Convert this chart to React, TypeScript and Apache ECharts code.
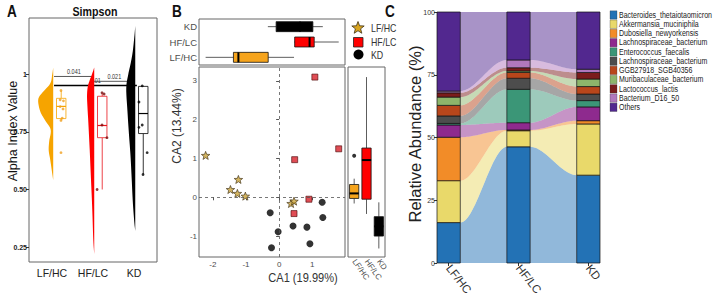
import React, { useEffect, useRef } from "react";
import * as echarts from "echarts";

const SANS = "'Liberation Sans', Arial, sans-serif";
const NARROW = SANS;

// ---------------- Panel A : Simpson ----------------
const groups = ["LF/HC", "HF/LC", "KD"];
const alphaTicks = [0.25, 0.5, 0.75, 1];
const alphaTickLabels = ["0.25", "0.50", "0.75", "1"];
// half-violin outlines: [alpha value, density width]
const violinLF = [[0.54, 0], [0.57, 1], [0.63, 3], [0.67, 4.5], [0.71, 4], [0.76, 2.5], [0.8, 8], [0.84, 13], [0.89, 15], [0.92, 11], [0.96, 3], [1.0, 1], [1.03, 0]];
const violinHF = [[0.22, 0], [0.26, 0.7], [0.31, 1.2], [0.38, 1.7], [0.45, 2.3], [0.52, 3], [0.6, 3.8], [0.67, 4.5], [0.74, 5.3], [0.8, 6], [0.86, 6.8], [0.91, 7.2], [0.95, 6.3], [0.98, 4], [1.01, 1.5], [1.03, 0]];
const violinKD = [[0.32, 0], [0.36, 1], [0.45, 2.5], [0.55, 3.6], [0.65, 4.8], [0.74, 6.3], [0.84, 7.8], [0.94, 9], [1.0, 7], [1.05, 4.5], [1.1, 2.5], [1.16, 1], [1.21, 0]];
// [lower whisker, q1, median, q3, upper whisker]
const boxLF = [0.8, 0.808, 0.861, 0.896, 0.93];
const boxHF = [0.5, 0.725, 0.778, 0.905, 0.915];
const boxKD = [0.565, 0.743, 0.83, 0.948, 0.95];
const pointsLF = [[1.22, 0.93], [1.2, 0.89], [1.28, 0.885], [1.2, 0.86], [1.27, 0.85], [1.22, 0.8], [1.25, 0.81], [1.22, 0.66]];
const pointsHF = [[2.22, 0.92], [2.27, 0.915], [2.22, 0.78], [2.34, 0.725], [2.1, 0.5]];
const pointsKD = [[3.2, 0.95], [3.12, 0.88], [3.12, 0.77], [3.2, 0.78], [3.32, 0.66], [3.22, 0.565]];
// [x start, x end, y]
const brackets = [[1.05, 2.02, 0.991], [2.02, 3.02, 0.97], [1.05, 3.07, 0.952]];
const bracketLabels = ["0.041", "0.021", "0.01"];

// ---------------- Panel B : CA ----------------
const ca1Ticks = [-2, -1, 0, 1];
const ca2Ticks = [-1, 0, 1, 2, 3];
const starsLF = [[-2.22, 1.08], [-1.23, 0.46], [-1.47, 0.2], [-1.26, 0.1], [-1.02, 0.03], [0.36, -0.16], [0.45, -0.1]];
const squaresHF = [[1.08, 3.1], [1.8, 1.25], [0.47, 0.97], [0.9, -0.05], [0.45, -0.42]];
const circlesKD = [[-0.27, -0.4], [-0.03, -0.89], [-0.23, -1.3], [0.42, -0.74], [0.84, -0.77], [0.93, -1.2], [1.3, -0.13], [1.32, -0.52]];
const ca1Box = [[-2.22, -1.38, -1.23, -0.33, 0.45], [0.45, 0.47, 0.92, 1.06, 1.8], [-0.34, -0.09, 0.63, 1.02, 1.32]];
const ca2Box = [[-0.16, -0.03, 0.1, 0.33, 0.48], [-0.43, -0.05, 0.96, 1.27, 3.1], [-1.32, -1.0, -0.75, -0.5, -0.13]];
const ca2Outliers = [[0, 1.07]];

// ---------------- Panel C : Relative abundance ----------------
const taxa = [
  "Bacteroides_thetaiotaomicron", "Akkermansia_muciniphila", "Dubosiella_newyorkensis",
  "Lachnospiraceae_bacterium", "Enterococcus_faecalis", "Lachnospiraceae_bacterium",
  "GGB27918_SGB40356", "Muribaculaceae_bacterium", "Lactococcus_lactis", "Bacterium_D16_50", "Others",
];
const taxaColors = ["#2372B5", "#E9D96A", "#F28C28", "#8E2A8E", "#3B9677", "#4D4D4D", "#B8461B", "#8DB56B", "#7B1C1C", "#B178BD", "#52288F"];
const abundLF = [16.1, 16.7, 17.3, 4.9, 0.6, 3.0, 4.2, 3.3, 1.7, 0.7, 31.5];
const abundHF = [46.3, 6.4, 0.3, 2.9, 13.3, 4.4, 2.3, 0.6, 1.3, 3.1, 19.1];
const abundKD = [35, 20.4, 1.3, 5.5, 2.5, 2.6, 3.0, 3.0, 2.6, 1.3, 22.8];
const abundTicks = [0, 25, 50, 75, 100];

// ---------------- helpers ----------------
const groupColors = ["#F6A400", "#FF0000", "#000000"];
const boxStroke = ["#F6A400", "#E8141C", "#000000"];
const pointColors = ["#F0A020", "#7A0A0A", "#000000"];
const violins = [violinLF, violinHF, violinKD];
const boxesA = [boxLF, boxHF, boxKD];
const VIOLIN_OFFSET = 0.03;
const VIOLIN_SCALE = 1 / 41;
const BAR_HALF = 1 / 6;

function catmull(pts: number[][], n = 6) {
  const out: number[][] = [];
  for (let i = 0; i < pts.length - 1; i++) {
    const p0 = pts[Math.max(i - 1, 0)], p1 = pts[i], p2 = pts[i + 1], p3 = pts[Math.min(i + 2, pts.length - 1)];
    for (let t = 0; t < n; t++) {
      const s = t / n, s2 = s * s, s3 = s2 * s;
      out.push([0, 1].map((k) => 0.5 * (2 * p1[k] + (-p0[k] + p2[k]) * s + (2 * p0[k] - 5 * p1[k] + 4 * p2[k] - p3[k]) * s2 + (-p0[k] + 3 * p1[k] - 3 * p2[k] + p3[k]) * s3)));
    }
  }
  out.push(pts[pts.length - 1]);
  return out;
}
const smoothstep = (t: number) => t * t * (3 - 2 * t);
const cumulative = (arr: number[]) => {
  const out = [0];
  arr.forEach((v) => out.push(out[out.length - 1] + v));
  return out;
};
const abund = [abundLF, abundHF, abundKD];
const cums = abund.map(cumulative);

const starPoints = (cx: number, cy: number, r: number) => {
  const pts: number[][] = [];
  for (let i = 0; i < 10; i++) {
    const rr = i % 2 === 0 ? r : r * 0.42;
    const a = -Math.PI / 2 + (i * Math.PI) / 5;
    pts.push([cx + rr * Math.cos(a), cy + rr * Math.sin(a)]);
  }
  return pts;
};
const STAR = "path://M" + starPoints(50, 50, 50).map((p) => p[0].toFixed(1) + "," + p[1].toFixed(1)).join("L") + "Z";

const txt = (text: string, x: number, y: number, o: any = {}) => ({
  type: "text",
  x,
  y,
  rotation: o.rotation || 0,
  scaleX: o.scaleX || 1,
  silent: true,
  style: {
    text,
    fontSize: o.fontSize || 10,
    fontFamily: o.fontFamily || NARROW,
    fontWeight: o.fontWeight || "normal",
    fill: o.fill || "#222",
    textAlign: o.align || "left",
    align: o.align || "left",
    textVerticalAlign: "middle",
    verticalAlign: "middle",
  },
});

function boxRender(horizontal: boolean, data: number[][], fills: string[]) {
  return (params: any, api: any) => {
    const g = params.dataIndex;
    const [lo, q1, med, q3, hi] = data[g];
    const band = horizontal ? api.size([0, 1])[1] : api.size([1, 0])[0];
    const h = band * (horizontal ? 0.65 : 0.75);
    const P = (v: number) => (horizontal ? api.coord([v, g]) : api.coord([g, v]));
    const pLo = P(lo), pQ1 = P(q1), pMed = P(med), pQ3 = P(q3), pHi = P(hi);
    const ws = { stroke: "#333", lineWidth: 0.8 };
    if (horizontal) {
      const cy = pLo[1];
      return {
        type: "group",
        children: [
          { type: "line", shape: { x1: pLo[0], y1: cy, x2: pQ1[0], y2: cy }, style: ws },
          { type: "line", shape: { x1: pQ3[0], y1: cy, x2: pHi[0], y2: cy }, style: ws },
          { type: "rect", shape: { x: pQ1[0], y: cy - h / 2, width: pQ3[0] - pQ1[0], height: h }, style: { fill: fills[g], stroke: "#111", lineWidth: 0.8 } },
          { type: "line", shape: { x1: pMed[0], y1: cy - h / 2, x2: pMed[0], y2: cy + h / 2 }, style: { stroke: "#000", lineWidth: 2 } },
        ],
      };
    }
    const cx = pLo[0];
    return {
      type: "group",
      children: [
        { type: "line", shape: { x1: cx, y1: pLo[1], x2: cx, y2: pQ1[1] }, style: ws },
        { type: "line", shape: { x1: cx, y1: pQ3[1], x2: cx, y2: pHi[1] }, style: ws },
        { type: "rect", shape: { x: cx - h / 2, y: pQ3[1], width: h, height: pQ1[1] - pQ3[1] }, style: { fill: fills[g], stroke: "#111", lineWidth: 0.8 } },
        { type: "line", shape: { x1: cx - h / 2, y1: pMed[1], x2: cx + h / 2, y2: pMed[1] }, style: { stroke: "#000", lineWidth: 2 } },
      ],
    };
  };
}

const gridBorder = { show: true, borderColor: "#666", borderWidth: 1, backgroundColor: "transparent" };
const tickLbl = (size: number, color = "#4d4d4d") => ({ fontSize: size, color, fontFamily: NARROW });

function buildOption() {
  const barItems: number[][] = [];
  abund.forEach((arr, b) => arr.forEach((_, l) => barItems.push([b + 1, cums[b][l], cums[b][l + 1], l])));
  const flowItems: number[][] = [];
  for (let g = 0; g < abund.length - 1; g++) for (let l = 0; l < taxa.length; l++) flowItems.push([g + 1, g + 2, l]);

  const graphic: any[] = [
    txt("A", 7, 12, { fontSize: 16, fontWeight: "bold", fontFamily: SANS, fill: "#111", scaleX: 0.85 }),
    txt("B", 172, 12, { fontSize: 16, fontWeight: "bold", fontFamily: SANS, fill: "#111", scaleX: 0.85 }),
    txt("C", 385, 12, { fontSize: 16, fontWeight: "bold", fontFamily: SANS, fill: "#111", scaleX: 0.85 }),
    txt("Simpson", 95, 12, { fontSize: 13, fontWeight: "bold", align: "center", fill: "#111", scaleX: 0.82 }),
    txt("Alpha Index Value", 13, 131, { fontSize: 12.5, fontFamily: SANS, align: "center", rotation: Math.PI / 2, fill: "#111" }),
    txt("CA2 (13.44%)", 177, 126, { fontSize: 12, fontFamily: SANS, align: "center", rotation: Math.PI / 2, fill: "#333" }),
    txt("CA1 (19.99%)", 303, 278, { fontSize: 13.5, align: "center", fill: "#333", scaleX: 0.82 }),
    txt("Relative Abundance (%)", 415, 134, { fontSize: 16.5, fontFamily: SANS, align: "center", rotation: Math.PI / 2, fill: "#222" }),
    // B legend
    { type: "polygon", silent: true, shape: { points: starPoints(358, 28, 6.5) }, style: { fill: "#D9A520", stroke: "#3d3015", lineWidth: 0.8 } },
    { type: "rect", silent: true, shape: { x: 353.5, y: 37.5, width: 9.5, height: 9.5 }, style: { fill: "#FF0000", stroke: "#222", lineWidth: 0.8 } },
    { type: "circle", silent: true, shape: { cx: 358.5, cy: 54.5, r: 5 }, style: { fill: "#000" } },
    txt(groups[0], 371, 28, { fontSize: 11, fill: "#333", scaleX: 0.8 }),
    txt(groups[1], 371, 42, { fontSize: 11, fill: "#333", scaleX: 0.8 }),
    txt(groups[2], 371, 55, { fontSize: 11, fill: "#333", scaleX: 0.8 }),
  ];
  taxa.forEach((name, i) => {
    const cy = 15 + i * 9.23;
    graphic.push({ type: "rect", silent: true, shape: { x: 610, y: cy - 4.2, width: 7, height: 8.4 }, style: { fill: taxaColors[i], stroke: "#333", lineWidth: 0.3 } });
    graphic.push(txt(name, 619, cy, { fontSize: 8.8, fill: "#222", scaleX: 0.8 }));
  });

  return {
    animation: false,
    backgroundColor: "#fff",
    textStyle: { fontFamily: NARROW },
    grid: [
      { left: 29, top: 18, width: 128, height: 244, ...gridBorder },
      { left: 199, top: 19, width: 146, height: 46, ...gridBorder },
      { left: 199, top: 67, width: 146, height: 190, ...gridBorder },
      { left: 348, top: 67, width: 37, height: 190, ...gridBorder },
      { left: 437, top: 12, width: 163, height: 251, show: false },
    ],
    xAxis: [
      {
        gridIndex: 0, type: "value", min: 0.44, max: 3.56,
        axisLine: { show: false }, splitLine: { show: false }, axisTick: { show: false },
        axisLabel: { customValues: [1, 2, 3], formatter: (v: number) => groups[Math.round(v) - 1] || "", ...tickLbl(10.5, "#222"), margin: 5 },
      },
      { gridIndex: 1, type: "value", min: -2.42, max: 1.99, axisLine: { show: false }, splitLine: { show: false }, axisTick: { show: false }, axisLabel: { show: false } },
      {
        gridIndex: 2, type: "value", min: -2.42, max: 1.99,
        axisLine: { show: false }, splitLine: { show: false },
        axisTick: { customValues: ca1Ticks, length: 3, lineStyle: { color: "#555" } },
        axisLabel: { customValues: ca1Ticks, ...tickLbl(8), margin: 3 },
      },
      {
        gridIndex: 3, type: "category", data: groups,
        axisLine: { show: false }, splitLine: { show: false },
        axisTick: { alignWithLabel: true, length: 3, lineStyle: { color: "#555" } },
        axisLabel: { rotate: -55, ...tickLbl(8), margin: 3, interval: 0 },
      },
      {
        gridIndex: 4, type: "value", min: 1 - BAR_HALF, max: 3 + BAR_HALF,
        axisLine: { show: false }, splitLine: { show: false },
        axisTick: { customValues: [1, 2, 3], length: 3, lineStyle: { color: "#333" } },
        axisLabel: { customValues: [1, 2, 3], formatter: (v: number) => groups[Math.round(v) - 1] || "", rotate: -52, ...tickLbl(11.5, "#333"), margin: 3 },
      },
    ],
    yAxis: [
      {
        gridIndex: 0, type: "value", min: 0.185, max: 1.245,
        axisLine: { show: false }, splitLine: { show: false },
        axisTick: { customValues: alphaTicks, length: 3, lineStyle: { color: "#333" } },
        axisLabel: {
          customValues: alphaTicks,
          formatter: (v: number) => alphaTickLabels[alphaTicks.findIndex((t) => Math.abs(t - v) < 1e-6)] || "",
          ...tickLbl(7, "#222"), fontWeight: "bold", margin: 2,
        },
      },
      {
        gridIndex: 1, type: "category", data: groups,
        axisLine: { show: false }, splitLine: { show: false },
        axisTick: { alignWithLabel: true, length: 3, lineStyle: { color: "#555" } },
        axisLabel: { ...tickLbl(9.5), margin: 2 },
      },
      {
        gridIndex: 2, type: "value", min: -1.54, max: 3.36,
        axisLine: { show: false }, splitLine: { show: false },
        axisTick: { customValues: ca2Ticks, length: 3, lineStyle: { color: "#555" } },
        axisLabel: { customValues: ca2Ticks, ...tickLbl(8), margin: 2 },
      },
      { gridIndex: 3, type: "value", min: -1.54, max: 3.36, axisLine: { show: false }, splitLine: { show: false }, axisTick: { show: false }, axisLabel: { show: false } },
      {
        gridIndex: 4, type: "value", min: 0, max: 100, interval: 25,
        axisLine: { show: false }, splitLine: { show: false },
        axisTick: { length: 3, lineStyle: { color: "#333" } },
        axisLabel: { customValues: abundTicks, ...tickLbl(7, "#333"), margin: 2 },
      },
    ],
    series: [
      // ---- A: brackets
      {
        type: "custom", xAxisIndex: 0, yAxisIndex: 0, z: 2, silent: true,
        data: brackets.map((b) => [(b[0] + b[1]) / 2, b[2]]),
        renderItem: (params: any, api: any) => {
          const [x1, x2, y] = brackets[params.dataIndex];
          const p1 = api.coord([x1, y]);
          const p2 = api.coord([x2, y]);
          const last = params.dataIndex === brackets.length - 1;
          return {
            type: "group",
            children: [
              { type: "line", shape: { x1: p1[0], y1: p1[1], x2: p2[0], y2: p2[1] }, style: { stroke: last ? "#000" : "#444", lineWidth: last ? 1.6 : 0.9 } },
              {
                type: "text", x: (p1[0] + p2[0]) / 2, y: p1[1] - 1, scaleX: 0.85,
                style: { text: bracketLabels[params.dataIndex], fontSize: 6.5, fontFamily: NARROW, fill: "#333", textAlign: "center", align: "center", textVerticalAlign: "bottom", verticalAlign: "bottom" },
              },
            ],
          };
        },
      },
      // ---- A: violins
      {
        type: "custom", xAxisIndex: 0, yAxisIndex: 0, z: 3, silent: true,
        data: groups.map((_, i) => [i + 1, 0.6]),
        renderItem: (params: any, api: any) => {
          const g = params.dataIndex;
          const base = g + 1 + VIOLIN_OFFSET;
          const pts = violins[g].map(([v, w]) => api.coord([base - w * VIOLIN_SCALE, v]));
          return { type: "polygon", shape: { points: catmull(pts, 6) }, style: { fill: groupColors[g] } };
        },
      },
      // ---- A: boxes
      {
        type: "custom", xAxisIndex: 0, yAxisIndex: 0, z: 4, silent: true,
        data: groups.map((_, i) => [i + 1.22, boxesA[i][2]]),
        renderItem: (params: any, api: any) => {
          const g = params.dataIndex;
          const [lo, q1, med, q3, hi] = boxesA[g];
          const cx = g + 1 + 0.225, hw = 0.115;
          const c = (y: number) => api.coord([cx, y]);
          const tl = api.coord([cx - hw, q3]), br = api.coord([cx + hw, q1]);
          const ml = api.coord([cx - hw, med]), mr = api.coord([cx + hw, med]);
          const st = { stroke: boxStroke[g], lineWidth: 0.8 };
          return {
            type: "group",
            children: [
              { type: "line", shape: { x1: c(lo)[0], y1: c(lo)[1], x2: c(q1)[0], y2: c(q1)[1] }, style: st },
              { type: "line", shape: { x1: c(q3)[0], y1: c(q3)[1], x2: c(hi)[0], y2: c(hi)[1] }, style: st },
              { type: "rect", shape: { x: tl[0], y: tl[1], width: br[0] - tl[0], height: br[1] - tl[1] }, style: { ...st, fill: "#fff" } },
              { type: "line", shape: { x1: ml[0], y1: ml[1], x2: mr[0], y2: mr[1] }, style: { stroke: boxStroke[g], lineWidth: 1.2 } },
            ],
          };
        },
      },
      // ---- A: points
      ...[pointsLF, pointsHF, pointsKD].map((pts, i) => ({
        type: "scatter", xAxisIndex: 0, yAxisIndex: 0, z: 5, data: pts, symbolSize: 2.8, silent: true,
        itemStyle: { color: pointColors[i] },
      })),
      // ---- B: top boxes (CA1)
      {
        type: "custom", xAxisIndex: 1, yAxisIndex: 1, silent: true,
        data: ca1Box.map((b, i) => [b[2], i]),
        renderItem: boxRender(true, ca1Box, ["#F6A41C", "#FF0000", "#000000"]),
      },
      // ---- B: scatter
      {
        type: "scatter", name: groups[0], xAxisIndex: 2, yAxisIndex: 2, z: 4, data: starsLF, silent: true,
        symbol: STAR, symbolSize: 8.5, symbolKeepAspect: true,
        itemStyle: { color: "#C9A23A", borderColor: "#3d3015", borderWidth: 0.8 },
        markLine: {
          silent: true, symbol: "none", label: { show: false }, animation: false,
          lineStyle: { type: [3, 3], color: "#555", width: 0.8 },
          data: [{ xAxis: 0 }, { yAxis: 0 }],
        },
      },
      {
        type: "scatter", name: groups[1], xAxisIndex: 2, yAxisIndex: 2, z: 4, data: squaresHF, silent: true,
        symbol: "rect", symbolSize: 6,
        itemStyle: { color: "#D8202A", borderColor: "#4a0a0a", borderWidth: 0.8 },
      },
      {
        type: "scatter", name: groups[2], xAxisIndex: 2, yAxisIndex: 2, z: 4, data: circlesKD, silent: true,
        symbol: "circle", symbolSize: 7, itemStyle: { color: "#000" },
      },
      // ---- B: right boxes (CA2)
      {
        type: "custom", xAxisIndex: 3, yAxisIndex: 3, silent: true,
        data: ca2Box.map((b, i) => [i, b[2]]),
        renderItem: boxRender(false, ca2Box, ["#F6A41C", "#FF0000", "#000000"]),
      },
      {
        type: "scatter", xAxisIndex: 3, yAxisIndex: 3, data: ca2Outliers, symbolSize: 4, silent: true, itemStyle: { color: "#000" },
      },
      // ---- C: flows
      {
        type: "custom", xAxisIndex: 4, yAxisIndex: 4, z: 2, silent: true,
        data: flowItems,
        renderItem: (params: any, api: any) => {
          const g0 = api.value(0) - 1, g1 = api.value(1) - 1, l = api.value(2);
          const xa = g0 + 1 + BAR_HALF, xb = g1 + 1 - BAR_HALF;
          const top: number[][] = [], bot: number[][] = [];
          const N = 28;
          for (let i = 0; i <= N; i++) {
            const t = i / N, s = smoothstep(t), x = xa + (xb - xa) * t;
            top.push(api.coord([x, cums[g0][l + 1] + (cums[g1][l + 1] - cums[g0][l + 1]) * s]));
            bot.push(api.coord([x, cums[g0][l] + (cums[g1][l] - cums[g0][l]) * s]));
          }
          return { type: "polygon", shape: { points: top.concat(bot.reverse()) }, style: { fill: taxaColors[l], opacity: 0.5 } };
        },
      },
      // ---- C: stacked bars
      {
        type: "custom", xAxisIndex: 4, yAxisIndex: 4, z: 3, silent: true,
        data: barItems,
        renderItem: (params: any, api: any) => {
          const x = api.value(0), y0 = api.value(1), y1 = api.value(2), l = api.value(3);
          const p0 = api.coord([x - BAR_HALF, y1]);
          const p1 = api.coord([x + BAR_HALF, y0]);
          return {
            type: "rect",
            shape: { x: p0[0], y: p0[1], width: p1[0] - p0[0], height: p1[1] - p0[1] },
            style: { fill: taxaColors[l], stroke: "#111", lineWidth: 0.7 },
          };
        },
      },
    ],
    graphic,
  };
}

export default function App() {
  const ref = useRef<HTMLDivElement>(null);
  useEffect(() => {
    if (!ref.current) return;
    const chart = echarts.init(ref.current, null, { renderer: "svg" });
    chart.setOption(buildOption() as any);
    return () => chart.dispose();
  }, []);
  return <div ref={ref} style={{ position: "fixed", left: 0, top: 0, width: 720, height: 304, background: "#fff" }} />;
}
